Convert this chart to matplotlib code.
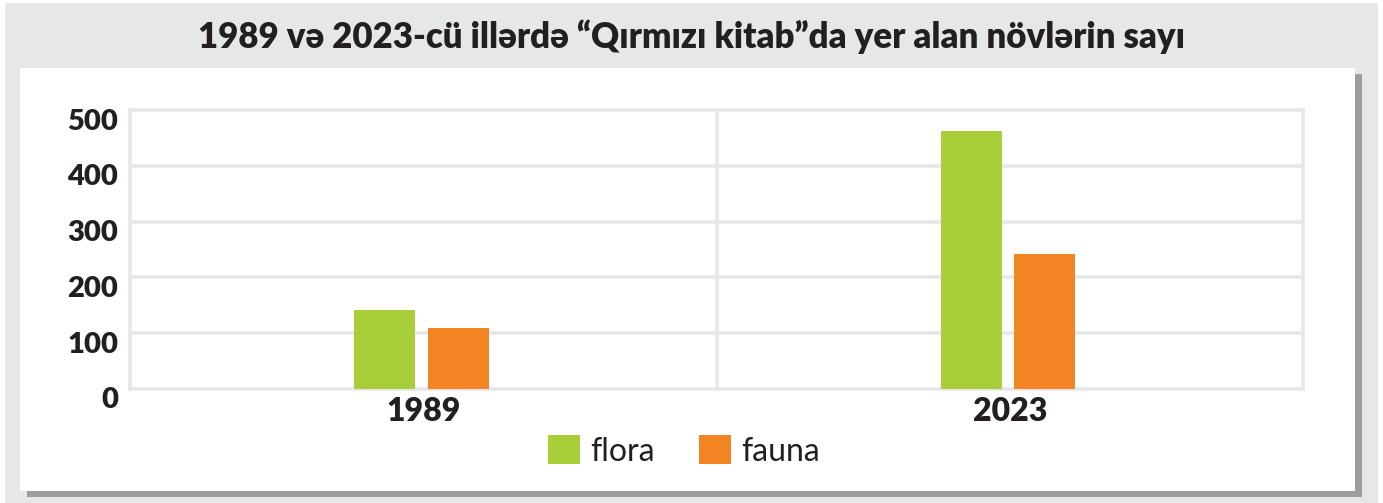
import matplotlib.pyplot as plt
import matplotlib.transforms as mtransforms
from matplotlib.patches import Rectangle

# data
years = ["1989", "2023"]
flora = [142, 462]
fauna = [109, 242]
y_ticks = [0, 100, 200, 300, 400, 500]
series_names = ["flora", "fauna"]
title = "1989 və 2023-cü illərdə “Qırmızı kitab”da yer alan növlərin sayı"

W, H = 1383, 503
GRID = "#e6e7e8"
TXT = "#231f20"
GREEN = "#a8ce3a"
ORANGE = "#f38423"

plt.rcParams["font.family"] = ["Lato", "DejaVu Sans"]

fig = plt.figure(figsize=(W / 100, H / 100), dpi=100)


def px_rect(x0, y0, x1, y1, color, z):
    # rectangle given in pixel coords (origin top-left)
    fig.patches.append(Rectangle((x0 / W, 1 - y1 / H), (x1 - x0) / W, (y1 - y0) / H,
                                 transform=fig.transFigure, color=color, zorder=z,
                                 linewidth=0))


px_rect(5, 3, 1378, 503, GRID, 0)        # gray frame
px_rect(27, 74, 1362, 497, "#9d9d9d", 1)  # shadow
px_rect(20, 68, 1355, 491, "white", 2)    # white panel

fig.text(691 / W, 1 - 48 / H, title, ha="center", va="baseline",
         fontsize=25, fontweight="heavy", color=TXT)

ax = fig.add_axes([130 / W, 1 - 389 / H, (1303 - 130) / W, (389 - 110) / H])
ax.set_facecolor("white")
ax.set_zorder(3)

xc = [0.5, 1.5]
bw = 0.104
b1 = ax.bar([x - 0.066 for x in xc], flora, width=bw, color=GREEN, zorder=3, label=series_names[0])
b2 = ax.bar([x + 0.060 for x in xc], fauna, width=bw, color=ORANGE, zorder=3, label=series_names[1])

ax.set_xlim(0, 2)
ax.set_ylim(0, 500)
ax.set_yticks(y_ticks)
for y in y_ticks[1:-1]:
    ax.axhline(y, color=GRID, lw=2.6, zorder=1)
ax.axvline(1, color=GRID, lw=2.6, zorder=1)
for s in ax.spines.values():
    s.set_color(GRID)
    s.set_linewidth(2.6)
    s.set_zorder(1)

ax.set_xticks(xc)
ax.set_xticklabels(years)
ax.tick_params(axis="both", length=0, labelcolor=TXT)
ax.tick_params(axis="y", pad=8.5, labelsize=21)
ax.tick_params(axis="x", pad=6, labelsize=23)
for lab in ax.get_yticklabels():
    lab.set_fontweight("heavy")
    lab.set_transform(lab.get_transform() + mtransforms.ScaledTranslation(0, -9 / 100, fig.dpi_scale_trans))
for lab in ax.get_xticklabels():
    lab.set_fontweight("heavy")

leg = ax.legend(handles=[b1, b2], loc="center", bbox_to_anchor=(684 / W, 1 - 451 / H),
                bbox_transform=fig.transFigure, ncol=2, frameon=False, fontsize=23,
                handlelength=1.0, handleheight=1.0, handletextpad=0.3,
                columnspacing=1.4, borderpad=0)
for t in leg.get_texts():
    t.set_color(TXT)

fig.savefig("out.png", dpi=100)
